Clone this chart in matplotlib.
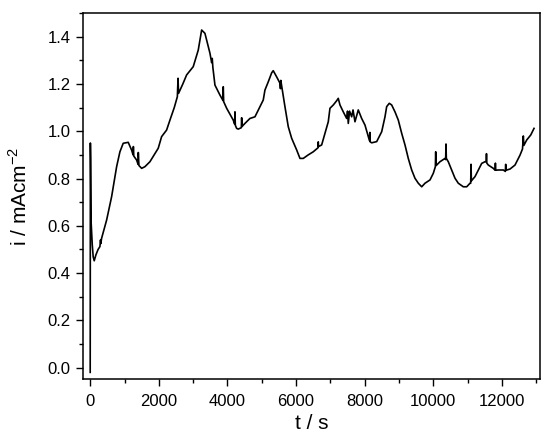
import matplotlib
matplotlib.use("Agg")
import matplotlib.pyplot as plt
from matplotlib.ticker import MultipleLocator, FormatStrFormatter

plt.rcParams['font.family'] = ['Liberation Sans', 'DejaVu Sans']
plt.rcParams['mathtext.fontset'] = 'custom'
plt.rcParams['mathtext.rm'] = 'Liberation Sans'

t_s = [0, 5, 12, 25, 60, 87, 117, 166, 230, 283, 300, 310, 332, 478, 624, 770, 866, 962,
       1108, 1207, 1250, 1258, 1270, 1353, 1395, 1402, 1420, 1499, 1595, 1741, 1983,
       2081, 2227, 2324, 2450, 2540, 2560, 2575, 2700, 2810, 3003, 3149, 3248, 3344,
       3490, 3540, 3557, 3575, 3636, 3781, 3870, 3878, 3890, 3977, 4169, 4210, 4219,
       4230, 4268, 4315, 4405, 4414, 4425, 4510, 4656, 4802, 4948, 5044, 5093, 5190,
       5289, 5335, 5434, 5531, 5545, 5555, 5676, 5773, 5872, 6017, 6114, 6210, 6356,
       6501, 6640, 6647, 6655, 6746, 6843, 6939, 6988, 7085, 7184, 7230, 7280, 7376,
       7475, 7500, 7522, 7560, 7621, 7660, 7717, 7813, 7912, 8009, 8105, 8140, 8150,
       8160, 8204, 8350, 8496, 8592, 8641, 8717, 8787, 8883, 8980, 9079, 9175, 9271,
       9370, 9466, 9563, 9662, 9758, 9904, 10000, 10060, 10070, 10080, 10099, 10195,
       10341, 10360, 10370, 10380, 10437, 10536, 10633, 10729, 10875, 10974, 11070,
       11090, 11100, 11110, 11216, 11312, 11411, 11508, 11540, 11550, 11560, 11603,
       11749, 11800, 11810, 11820, 11895, 12041, 12100, 12110, 12120, 12236, 12382,
       12528, 12600, 12624, 12640, 12723, 12840, 12936]
i_mA = [-0.02, 0.95, 0.88, 0.62, 0.52, 0.469, 0.452, 0.477, 0.50, 0.512, 0.54, 0.525,
        0.547, 0.624, 0.723, 0.85, 0.913, 0.949,
        0.953, 0.92, 0.90, 0.935, 0.895, 0.878, 0.86, 0.91, 0.855, 0.843, 0.85, 0.871, 0.928,
        0.977, 1.005, 1.047, 1.10, 1.146, 1.224, 1.16, 1.20, 1.238, 1.273, 1.343, 1.428, 1.414,
        1.33, 1.29, 1.308, 1.27, 1.195, 1.153, 1.13, 1.188, 1.125, 1.097, 1.047, 1.03, 1.082,
        1.025, 1.012, 1.009, 1.015, 1.057, 1.02, 1.033, 1.054, 1.061, 1.104, 1.132, 1.174, 1.209,
        1.247, 1.256, 1.23, 1.203, 1.18, 1.215, 1.104, 1.019, 0.97, 0.921, 0.885, 0.885, 0.90,
        0.913, 0.93, 0.955, 0.935, 0.942, 0.991, 1.04, 1.097, 1.111, 1.129, 1.139, 1.111, 1.082,
        1.054, 1.085, 1.033, 1.085, 1.061, 1.09, 1.04, 1.09, 1.054, 1.026, 0.977, 0.96, 0.995,
        0.955, 0.951, 0.956, 0.998, 1.061, 1.104, 1.118, 1.111, 1.082, 1.047, 0.991, 0.942, 0.885,
        0.836, 0.801, 0.78, 0.765, 0.78, 0.794, 0.822, 0.85, 0.913, 0.855, 0.857, 0.871,
        0.885, 0.88, 0.946, 0.885, 0.871, 0.836, 0.801, 0.78, 0.765, 0.765, 0.78,
        0.78, 0.86, 0.79, 0.808, 0.836, 0.864, 0.871, 0.87, 0.905, 0.865, 0.857,
        0.843, 0.835, 0.865, 0.835, 0.836, 0.836, 0.83, 0.86, 0.835, 0.84, 0.857,
        0.899, 0.925, 0.98, 0.94, 0.963, 0.984, 1.012]

fig = plt.figure(figsize=(5.5, 4.46), dpi=100)
ax = fig.add_axes([83/550, 1-379/446, (540-83)/550, (379-13)/446])
ax.plot(t_s, i_mA, color='black', lw=1.2)
ax.set_xlim(-210, 13110)
ax.set_ylim(-0.048, 1.5)
ax.xaxis.set_major_locator(MultipleLocator(2000))
ax.xaxis.set_minor_locator(MultipleLocator(1000))
ax.yaxis.set_major_locator(MultipleLocator(0.2))
ax.yaxis.set_minor_locator(MultipleLocator(0.1))
ax.yaxis.set_major_formatter(FormatStrFormatter('%.1f'))
ax.tick_params(which='both', direction='out', top=False, right=False, labelsize=12, width=1)
ax.tick_params(which='major', length=5)
ax.tick_params(which='minor', length=3)
ax.tick_params(axis='x', which='major', pad=6)
ax.tick_params(axis='y', which='major', pad=4)
for s in ax.spines.values():
    s.set_linewidth(1.1)
ax.set_xlabel('t / s', fontsize=15)
ax.set_ylabel('i / mAcm$^{-2}$', fontsize=15)
ax.xaxis.set_label_coords(0.5, -0.095)
ax.yaxis.set_label_coords(-0.115, 0.5)
fig.savefig('out.png', dpi=100)
